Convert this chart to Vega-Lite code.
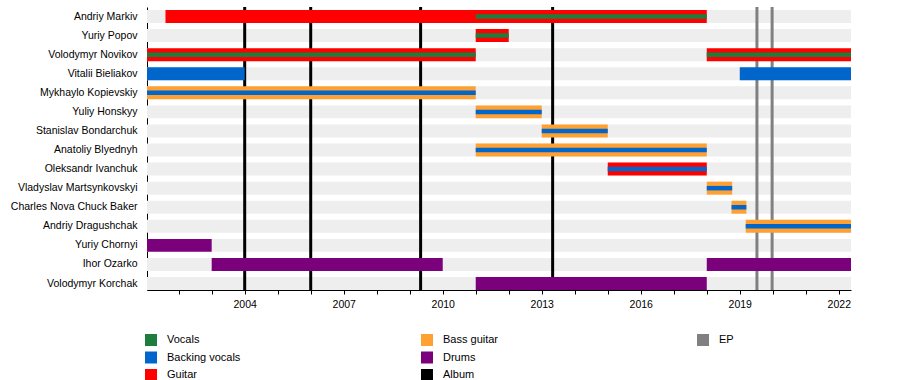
{
  "$schema": "https://vega.github.io/schema/vega-lite/v6.json",
  "width": 704,
  "height": 283,
  "autosize": {"type": "none"},
  "padding": {"left": 147, "top": 7, "right": 49, "bottom": 90},
  "background": "white",
  "config": {
    "view": {"stroke": null},
    "font": "Liberation Sans",
    "axis": {"grid": false, "title": null, "labelColor": "#000000", "domainColor": "#000000", "tickColor": "#000000"}
  },
  "datasets": {
    "members": [
      {"member": "Andriy Markiv"},
      {"member": "Yuriy Popov"},
      {"member": "Volodymyr Novikov"},
      {"member": "Vitalii Bieliakov"},
      {"member": "Mykhaylo Kopievskiy"},
      {"member": "Yuliy Honskyy"},
      {"member": "Stanislav Bondarchuk"},
      {"member": "Anatoliy Blyednyh"},
      {"member": "Oleksandr Ivanchuk"},
      {"member": "Vladyslav Martsynkovskyi"},
      {"member": "Charles Nova Chuck Baker"},
      {"member": "Andriy Dragushchak"},
      {"member": "Yuriy Chornyi"},
      {"member": "Ihor Ozarko"},
      {"member": "Volodymyr Korchak"}
    ],
    "lines": [
      {"event": "Album", "year": 2004.0},
      {"event": "Album", "year": 2006.0},
      {"event": "Album", "year": 2009.33},
      {"event": "Album", "year": 2013.33},
      {"event": "EP", "year": 2019.52},
      {"event": "EP", "year": 2019.98}
    ],
    "bars": [
      {"member": "Andriy Markiv", "role": "Guitar", "start": 2001.6, "end": 2018.0, "layer": "main"},
      {"member": "Yuriy Popov", "role": "Guitar", "start": 2011.0, "end": 2012.0, "layer": "main"},
      {"member": "Volodymyr Novikov", "role": "Guitar", "start": 2001.04, "end": 2011.0, "layer": "main"},
      {"member": "Volodymyr Novikov", "role": "Guitar", "start": 2018.0, "end": 2022.37, "layer": "main"},
      {"member": "Vitalii Bieliakov", "role": "Backing vocals", "start": 2001.04, "end": 2004.0, "layer": "main"},
      {"member": "Vitalii Bieliakov", "role": "Backing vocals", "start": 2019.0, "end": 2022.37, "layer": "main"},
      {"member": "Mykhaylo Kopievskiy", "role": "Bass guitar", "start": 2001.04, "end": 2011.0, "layer": "main"},
      {"member": "Yuliy Honskyy", "role": "Bass guitar", "start": 2011.0, "end": 2013.0, "layer": "main"},
      {"member": "Stanislav Bondarchuk", "role": "Bass guitar", "start": 2013.0, "end": 2015.0, "layer": "main"},
      {"member": "Anatoliy Blyednyh", "role": "Bass guitar", "start": 2011.0, "end": 2018.0, "layer": "main"},
      {"member": "Oleksandr Ivanchuk", "role": "Guitar", "start": 2015.0, "end": 2018.0, "layer": "main"},
      {"member": "Vladyslav Martsynkovskyi", "role": "Bass guitar", "start": 2018.0, "end": 2018.77, "layer": "main"},
      {"member": "Charles Nova Chuck Baker", "role": "Bass guitar", "start": 2018.75, "end": 2019.2, "layer": "main"},
      {"member": "Andriy Dragushchak", "role": "Bass guitar", "start": 2019.18, "end": 2022.37, "layer": "main"},
      {"member": "Yuriy Chornyi", "role": "Drums", "start": 2001.04, "end": 2003.0, "layer": "main"},
      {"member": "Ihor Ozarko", "role": "Drums", "start": 2003.0, "end": 2010.0, "layer": "main"},
      {"member": "Ihor Ozarko", "role": "Drums", "start": 2018.0, "end": 2022.37, "layer": "main"},
      {"member": "Volodymyr Korchak", "role": "Drums", "start": 2011.0, "end": 2018.0, "layer": "main"},
      {"member": "Andriy Markiv", "role": "Vocals", "start": 2011.0, "end": 2018.0, "layer": "inner"},
      {"member": "Yuriy Popov", "role": "Vocals", "start": 2011.0, "end": 2012.0, "layer": "inner"},
      {"member": "Volodymyr Novikov", "role": "Vocals", "start": 2001.04, "end": 2011.0, "layer": "inner"},
      {"member": "Volodymyr Novikov", "role": "Vocals", "start": 2018.0, "end": 2022.37, "layer": "inner"},
      {"member": "Mykhaylo Kopievskiy", "role": "Backing vocals", "start": 2001.04, "end": 2011.0, "layer": "inner"},
      {"member": "Yuliy Honskyy", "role": "Backing vocals", "start": 2011.0, "end": 2013.0, "layer": "inner"},
      {"member": "Stanislav Bondarchuk", "role": "Backing vocals", "start": 2013.0, "end": 2015.0, "layer": "inner"},
      {"member": "Anatoliy Blyednyh", "role": "Backing vocals", "start": 2011.0, "end": 2018.0, "layer": "inner"},
      {"member": "Oleksandr Ivanchuk", "role": "Backing vocals", "start": 2015.0, "end": 2018.0, "layer": "inner"},
      {"member": "Vladyslav Martsynkovskyi", "role": "Backing vocals", "start": 2018.0, "end": 2018.77, "layer": "inner"},
      {"member": "Charles Nova Chuck Baker", "role": "Backing vocals", "start": 2018.75, "end": 2019.2, "layer": "inner"},
      {"member": "Andriy Dragushchak", "role": "Backing vocals", "start": 2019.18, "end": 2022.37, "layer": "inner"}
    ]
  },
  "layer": [
    {
      "data": {"name": "members"},
      "mark": {"type": "bar", "color": "#eeeeee"},
      "encoding": {
        "y": {
          "field": "member", "type": "nominal",
          "scale": {
            "domain": ["Andriy Markiv", "Yuriy Popov", "Volodymyr Novikov", "Vitalii Bieliakov", "Mykhaylo Kopievskiy", "Yuliy Honskyy", "Stanislav Bondarchuk", "Anatoliy Blyednyh", "Oleksandr Ivanchuk", "Vladyslav Martsynkovskyi", "Charles Nova Chuck Baker", "Andriy Dragushchak", "Yuriy Chornyi", "Ihor Ozarko", "Volodymyr Korchak"],
            "paddingInner": 0.32, "paddingOuter": 0.08, "align": 1
          },
          "axis": {"ticks": false, "labelPadding": 10, "labelFontSize": 10.5, "labelLimit": 300}
        },
        "x": {
          "datum": 2001.04, "type": "quantitative",
          "scale": {"domain": [2001.04, 2022.37], "nice": false, "zero": false},
          "axis": {
            "values": [2002, 2003, 2004, 2005, 2006, 2007, 2008, 2009, 2010, 2011, 2012, 2013, 2014, 2015, 2016, 2017, 2018, 2019, 2020, 2021, 2022],
            "format": "d",
            "labelExpr": "datum.value % 3 == 0 ? datum.label : ''",
            "labelOverlap": false, "labelFlush": false,
            "tickSize": 4, "labelPadding": 5, "labelFontSize": 10.5
          }
        },
        "x2": {"datum": 2022.37}
      }
    },
    {
      "data": {"name": "lines"},
      "mark": {"type": "rule", "strokeWidth": 3},
      "encoding": {
        "x": {
          "field": "year", "type": "quantitative",
          "axis": {
            "values": [2002, 2003, 2004, 2005, 2006, 2007, 2008, 2009, 2010, 2011, 2012, 2013, 2014, 2015, 2016, 2017, 2018, 2019, 2020, 2021, 2022],
            "format": "d",
            "labelExpr": "datum.value % 3 == 0 ? datum.label : ''",
            "labelOverlap": false, "labelFlush": false,
            "tickSize": 4, "labelPadding": 5, "labelFontSize": 10.5
          }
        },
        "color": {
          "field": "event", "type": "nominal",
          "legend": {
            "title": null, "orient": "none", "legendX": -2, "legendY": 327,
            "columns": 3, "gridAlign": "all", "columnPadding": 180, "rowPadding": 5.5,
            "symbolType": "square", "symbolSize": 144, "symbolStrokeWidth": 0, "symbolOpacity": 1,
            "labelFontSize": 11, "labelOffset": 10, "labelColor": "#000000"
          }
        }
      }
    },
    {
      "data": {"name": "bars"},
      "transform": [{"filter": "datum.layer == 'main'"}],
      "mark": {"type": "bar"},
      "encoding": {
        "y": {"field": "member", "type": "nominal"},
        "x": {
          "field": "start", "type": "quantitative",
          "axis": {
            "values": [2002, 2003, 2004, 2005, 2006, 2007, 2008, 2009, 2010, 2011, 2012, 2013, 2014, 2015, 2016, 2017, 2018, 2019, 2020, 2021, 2022],
            "format": "d",
            "labelExpr": "datum.value % 3 == 0 ? datum.label : ''",
            "labelOverlap": false, "labelFlush": false,
            "tickSize": 4, "labelPadding": 5, "labelFontSize": 10.5
          }
        },
        "x2": {"field": "end"},
        "color": {
          "field": "role", "type": "nominal",
          "scale": {
            "domain": ["Vocals", "Backing vocals", "Guitar", "Bass guitar", "Drums", "Album", "EP", " "],
            "range": ["#1e7d3c", "#0066cc", "#ff0000", "#ffa033", "#7b007b", "#000000", "#808080", "rgba(0,0,0,0)"]
          },
          "legend": {
            "title": null, "orient": "none", "legendX": -2, "legendY": 327,
            "columns": 3, "gridAlign": "all", "columnPadding": 180, "rowPadding": 5.5,
            "symbolType": "square", "symbolSize": 144, "symbolStrokeWidth": 0, "symbolOpacity": 1,
            "labelFontSize": 11, "labelOffset": 10, "labelColor": "#000000"
          }
        }
      }
    },
    {
      "data": {"name": "bars"},
      "transform": [{"filter": "datum.layer == 'inner'"}],
      "mark": {"type": "bar", "height": 4.5},
      "encoding": {
        "y": {"field": "member", "type": "nominal"},
        "x": {
          "field": "start", "type": "quantitative",
          "axis": {
            "values": [2002, 2003, 2004, 2005, 2006, 2007, 2008, 2009, 2010, 2011, 2012, 2013, 2014, 2015, 2016, 2017, 2018, 2019, 2020, 2021, 2022],
            "format": "d",
            "labelExpr": "datum.value % 3 == 0 ? datum.label : ''",
            "labelOverlap": false, "labelFlush": false,
            "tickSize": 4, "labelPadding": 5, "labelFontSize": 10.5
          }
        },
        "x2": {"field": "end"},
        "color": {
          "field": "role", "type": "nominal",
          "legend": {
            "title": null, "orient": "none", "legendX": -2, "legendY": 327,
            "columns": 3, "gridAlign": "all", "columnPadding": 180, "rowPadding": 5.5,
            "symbolType": "square", "symbolSize": 144, "symbolStrokeWidth": 0, "symbolOpacity": 1,
            "labelFontSize": 11, "labelOffset": 10, "labelColor": "#000000"
          }
        }
      }
    }
  ]
}
